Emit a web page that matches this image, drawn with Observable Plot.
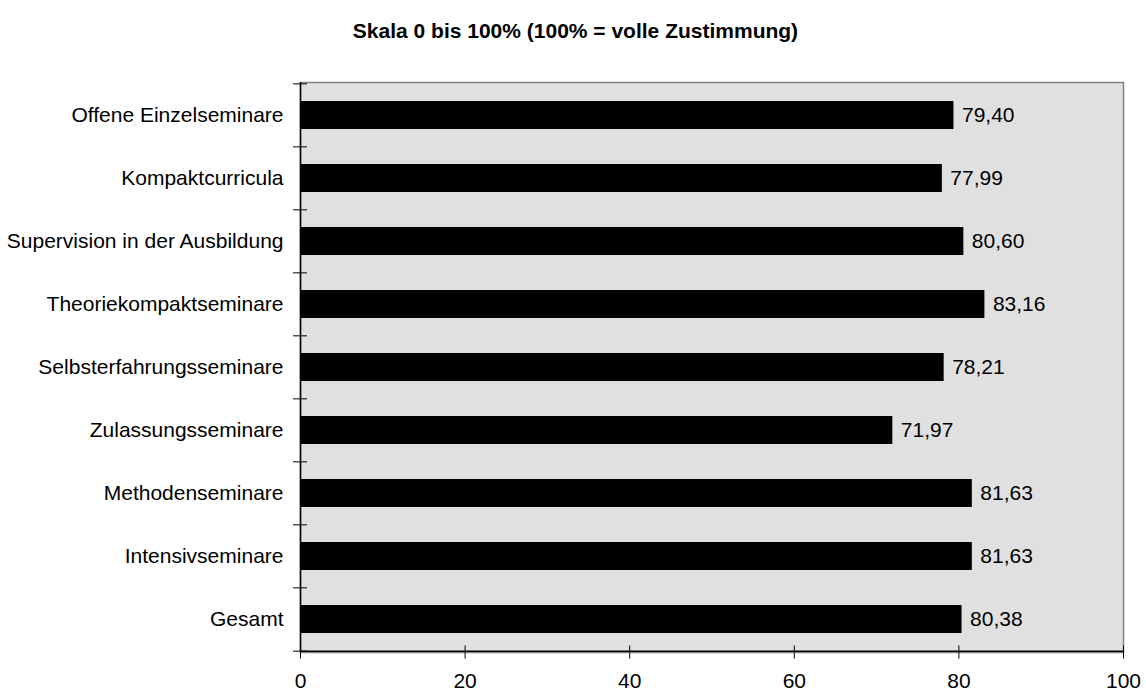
<!DOCTYPE html>
<html><head><meta charset="utf-8">
<script src="https://cdn.jsdelivr.net/npm/d3@7"></script>
<script src="https://cdn.jsdelivr.net/npm/@observablehq/plot@0.6"></script>
<style>
body{margin:0;background:#fff;font-family:"Liberation Sans",Arial,sans-serif;}
#title{height:50px;width:1146px;box-sizing:border-box;padding-left:5px;text-align:center;font-weight:bold;font-size:21px;line-height:62px;color:#000;}
</style></head>
<body>
<div id="title">Skala 0 bis 100% (100% = volle Zustimmung)</div>
<div id="chart"></div>
<script>
const categories = ["Offene Einzelseminare","Kompaktcurricula","Supervision in der Ausbildung","Theoriekompaktseminare","Selbsterfahrungsseminare","Zulassungsseminare","Methodenseminare","Intensivseminare","Gesamt"];
const values = [79.40, 77.99, 80.60, 83.16, 78.21, 71.97, 81.63, 81.63, 80.38];
const xTicks = [0, 20, 40, 60, 80, 100];

const data = categories.map((c, i) => ({category: c, value: values[i]}));
const W = 1146, H = 643, mT = 32, mB = 41, mL = 300, mR = 23;
const step = (H - mT - mB) / categories.length;
const fmt = v => v.toFixed(2).replace(".", ",");
const font = '"Liberation Sans", Arial, sans-serif';

const chart = Plot.plot({
  width: W, height: H,
  marginTop: mT, marginBottom: mB, marginLeft: mL, marginRight: mR,
  style: {fontFamily: font, fontSize: "21px", color: "#000", background: "#fff", overflow: "visible"},
  x: {domain: [0, 100], ticks: xTicks, label: null},
  y: {domain: categories, paddingInner: 0.55, paddingOuter: 0.275, label: null},
  marks: [
    Plot.frame({fill: "#e0e0e0", stroke: "#808080", strokeWidth: 1.5}),
    Plot.barX(data, {x: "value", y: "category", fill: "#000"}),
    Plot.text(data, {x: "value", y: "category", text: d => fmt(d.value), textAnchor: "start", dx: 8, fontSize: 21, fill: "#000"}),
    Plot.ruleX([0], {stroke: "#000", strokeWidth: 1.5}),
    Plot.ruleY([categories[categories.length - 1]], {dy: step / 2, stroke: "#000", strokeWidth: 1.5}),
    // y boundary ticks
    Plot.axisY({tickSize: 14, dx: 7, dy: -step / 2, tickFormat: () => "", stroke: "#000"}),
    Plot.axisY({ticks: [categories[categories.length - 1]], tickSize: 14, dx: 7, dy: step / 2, tickFormat: () => "", stroke: "#000"}),
    Plot.axisY({tickSize: 0, tickPadding: 17, fontSize: 21}),
    // x ticks crossing axis
    Plot.axisX({ticks: xTicks, tickSize: 13, dy: -6.5, tickFormat: () => "", stroke: "#000"}),
    Plot.axisX({ticks: xTicks, tickSize: 0, tickPadding: 21, fontSize: 21, tickFormat: d => String(d)})
  ]
});
document.getElementById("chart").appendChild(chart);
</script>
</body></html>
